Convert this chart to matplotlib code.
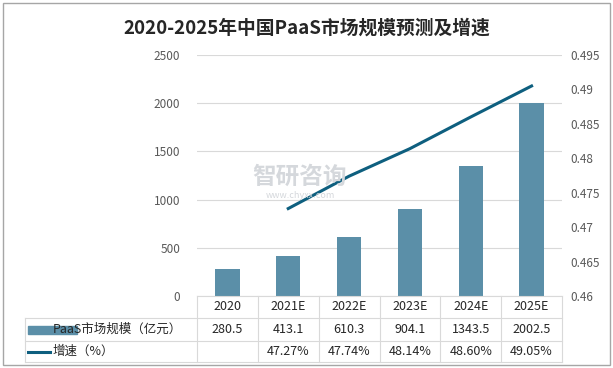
import matplotlib
matplotlib.use("Agg")
import matplotlib.pyplot as plt
from matplotlib.lines import Line2D
from matplotlib.patches import Rectangle

plt.rcParams['font.family'] = ['Noto Sans CJK SC', 'DejaVu Sans']

categories = ["2020", "2021E", "2022E", "2023E", "2024E", "2025E"]
market_size = [280.5, 413.1, 610.3, 904.1, 1343.5, 2002.5]
growth = [None, 0.4727, 0.4774, 0.4814, 0.4860, 0.4905]
growth_labels = ["", "47.27%", "47.74%", "48.14%", "48.60%", "49.05%"]
series1_name = "PaaS市场规模（亿元）"
series2_name = "增速（%）"
title = "2020-2025年中国PaaS市场规模预测及增速"

W, H = 613, 368
bar_color = "#5B8FA8"
line_color = "#0E5F7F"
grid_color = "#D9D9D9"
tick_color = "#595959"

fig = plt.figure(figsize=(W / 100, H / 100), dpi=100)

def fx(px):
    return px / W

def fy(py):
    return 1 - py / H

x0, x1 = 197, 562
ytop, ybot = 55, 296
ax = fig.add_axes([fx(x0), fy(ybot), fx(x1) - fx(x0), fy(ytop) - fy(ybot)])
xs = list(range(len(categories)))
ax.bar(xs, market_size, width=0.4, color=bar_color, zorder=2)
ax.set_xlim(-0.5, len(categories) - 0.5)
ax.set_ylim(0, 2500)
ax.set_yticks([0, 500, 1000, 1500, 2000, 2500])
ax.yaxis.grid(True, color=grid_color, linewidth=0.8, zorder=0)
ax.set_xticks([])
for s in ax.spines.values():
    s.set_visible(False)
ax.tick_params(axis='y', length=0, labelsize=8.5, labelcolor=tick_color, pad=12)

ax2 = ax.twinx()
gx = [x for x, g in zip(xs, growth) if g is not None]
gy = [g for g in growth if g is not None]
ax2.plot(gx, gy, color=line_color, linewidth=2.2, zorder=3)
ax2.set_ylim(0.46, 0.495)
ax2.set_yticks([0.46, 0.465, 0.47, 0.475, 0.48, 0.485, 0.49, 0.495])
ax2.set_yticklabels(["0.46", "0.465", "0.47", "0.475", "0.48", "0.485", "0.49", "0.495"])
for s in ax2.spines.values():
    s.set_visible(False)
ax2.tick_params(axis='y', length=0, labelsize=8.5, labelcolor=tick_color, pad=6)

# watermark
fig.text(fx(300), fy(177), "智研咨询", fontsize=17, color="#D5D8DC", ha='center', va='center',
         fontweight='bold', zorder=0)
fig.text(fx(300), fy(196), "www.chyxx.com", fontsize=6.5, color="#D5D8DC", ha='center', va='center', zorder=0)

# title
fig.text(0.5, fy(28), title, fontsize=13.5, fontweight='bold', color="#262626", ha='center', va='center')

# table
lc = "#D9D9D9"
col_w = (x1 - x0) / len(categories)
rows_y = [296, 318, 341, 362]
leg_x = 25

def hline(y, xa, xb):
    fig.add_artist(Line2D([fx(xa), fx(xb)], [fy(y), fy(y)], color=lc, linewidth=0.8))

def vline(x, ya, yb):
    fig.add_artist(Line2D([fx(x), fx(x)], [fy(ya), fy(yb)], color=lc, linewidth=0.8))

hline(rows_y[0], x0, x1)
for y in rows_y[1:]:
    hline(y, leg_x, x1)
vline(leg_x, rows_y[1], rows_y[3])
for i in range(len(categories) + 1):
    vline(x0 + i * col_w, rows_y[0], rows_y[3])

tc = "#262626"
for i, c in enumerate(categories):
    cx = x0 + (i + 0.5) * col_w
    fig.text(fx(cx), fy((rows_y[0] + rows_y[1]) / 2), c, fontsize=9, color=tc, ha='center', va='center')
    fig.text(fx(cx), fy((rows_y[1] + rows_y[2]) / 2), f"{market_size[i]:.1f}", fontsize=9, color=tc,
             ha='center', va='center')
    fig.text(fx(cx), fy((rows_y[2] + rows_y[3]) / 2), growth_labels[i], fontsize=9, color=tc,
             ha='center', va='center')

# legend entries in table
r1 = (rows_y[1] + rows_y[2]) / 2
fig.add_artist(Rectangle((fx(28), fy(r1 + 4)), fx(49) - fx(0), fy(0) - fy(8), color=bar_color,
                         transform=fig.transFigure))
fig.text(fx(53), fy(r1), series1_name, fontsize=9, color=tc, ha='left', va='center')
r2 = (rows_y[2] + rows_y[3]) / 2
fig.add_artist(Line2D([fx(28), fx(50)], [fy(r2), fy(r2)], color=line_color, linewidth=2.2))
fig.text(fx(53), fy(r2), series2_name, fontsize=9, color=tc, ha='left', va='center')

# outer border
fig.add_artist(Rectangle((fx(3), fy(365)), fx(607), fy(0) - fy(362), fill=False, edgecolor="#A6A6A6",
                         linewidth=1, transform=fig.transFigure))

fig.savefig("out.png", dpi=100)
